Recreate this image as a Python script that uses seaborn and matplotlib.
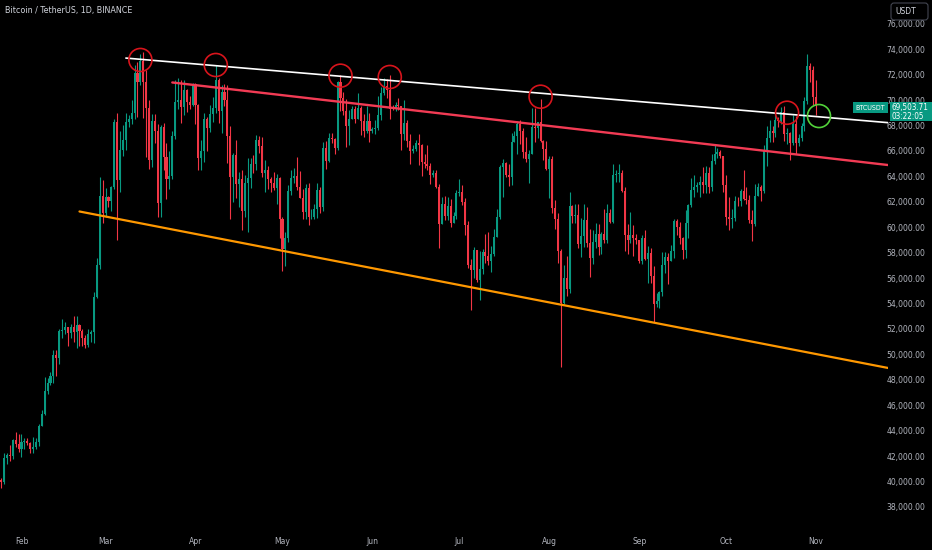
import numpy as np
import pandas as pd
import matplotlib
matplotlib.use("Agg")
import matplotlib.pyplot as plt
import matplotlib.dates as mdates
from matplotlib import font_manager as fm
from matplotlib.patches import Rectangle, FancyBboxPatch
from matplotlib.transforms import IdentityTransform
import seaborn as sns

# ---------------- data (BTCUSDT daily) ----------------
start_date = "2024-01-25"
first_open = 40080

close_jan = [39940, 41810, 42120, 42030, 43300, 42940, 42580]
high_jan = [40280, 42230, 42200, 42840, 43310, 43880, 43750]
low_jan = [39480, 39820, 41390, 41630, 41800, 42680, 42280]

close_feb = [43080, 43190, 42990, 42580, 42700, 43090, 44340, 45290, 47130, 47750,
             48290, 49960, 49700, 51800, 51940, 52130, 51660, 52120, 51780, 52280,
             51850, 51300, 50730, 51570, 51730, 54480, 57040, 62430, 61130]
high_feb = [43740, 43420, 43380, 43120, 43530, 43400, 44520, 45590, 48200, 48170,
            48590, 50330, 50370, 52000, 52820, 52580, 52190, 52370, 52990, 52990,
            52370, 52010, 51550, 51960, 51950, 54900, 57580, 63920, 63680]
low_feb = [41890, 42580, 42880, 42260, 42270, 42560, 42800, 44330, 45240, 46880,
           47550, 47720, 48300, 49260, 51280, 51620, 50620, 51280, 50960, 50530,
           50630, 50640, 50530, 50580, 51010, 50900, 54450, 56710, 60360]

close_mar = [62390, 62030, 63130, 68250, 63720, 66080, 66850, 68290, 68490, 69020,
             72100, 71450, 73070, 71390, 69400, 65300, 68390, 67550, 61910, 67910,
             65490, 63780, 64060, 67210, 69880, 69990, 69460, 70780, 69850, 69580,
             71280]
high_mar = [63110, 62430, 63230, 68530, 69000, 67600, 68020, 69000, 68800, 70000,
            72800, 73000, 73650, 73780, 72360, 70000, 68900, 68920, 68100, 68030,
            68240, 66650, 65970, 67600, 71560, 71730, 71550, 71550, 70900, 70320,
            71370]
low_mar = [60770, 61600, 61310, 62990, 59000, 62800, 65600, 66070, 67890, 68150,
           68550, 68690, 71170, 68600, 65500, 64600, 64750, 66620, 60780, 60780,
           64530, 62260, 63000, 63800, 66950, 69280, 68230, 68850, 69100, 69320,
           69500]

close_apr = [69650, 65460, 65960, 68490, 67820, 68900, 69360, 71620, 69150, 70630,
             70010, 67150, 63920, 65660, 63420, 63790, 61270, 63510, 63840, 64990,
             64940, 66840, 66410, 64280, 64500, 63770, 63460, 63120, 63840, 60670]
high_apr = [71350, 69680, 66900, 69000, 68710, 69630, 70280, 72800, 71760, 71170,
            71250, 71220, 67930, 65840, 66860, 64360, 64500, 64120, 65450, 65450,
            65700, 67230, 67210, 67090, 65300, 64800, 63930, 64370, 64220, 63960]
low_apr = [68130, 64490, 64500, 65100, 66000, 67500, 68300, 69000, 68190, 67450,
           69560, 65080, 60660, 62000, 62300, 61620, 59770, 60830, 59600, 63090,
           64260, 64480, 65840, 63960, 62800, 63000, 62800, 62960, 61800, 59190]

close_may = [58320, 59120, 62890, 63890, 64030, 63160, 62330, 61190, 63070, 60790,
             60830, 61460, 62910, 61560, 66250, 65230, 67040, 66940, 66270, 71450,
             70140, 69120, 67930, 68530, 69290, 68510, 69390, 68350, 67580, 68350,
             67540]
high_may = [60780, 59600, 63320, 64490, 64630, 65500, 64420, 63020, 63420, 63470,
            61440, 61830, 63450, 63130, 66700, 66800, 67400, 67450, 67000, 71500,
            71950, 70630, 70090, 69200, 69560, 69500, 70600, 69550, 68900, 69500,
            69000]
low_may = [56550, 56940, 58830, 62570, 63450, 62950, 62300, 60630, 60650, 60190,
           60630, 60620, 60750, 61150, 61310, 64600, 65100, 66600, 65800, 66100,
           69180, 68800, 66300, 66500, 68560, 68230, 68600, 67250, 67130, 67430,
           66670]

close_jun = [67750, 67770, 68800, 70570, 71080, 70760, 69340, 69300, 69650, 69510,
             67320, 68240, 66750, 66010, 66190, 66640, 66490, 65160, 64960, 64830,
             64100, 64260, 63160, 60280, 61800, 60860, 61670, 60320, 60890, 62680]
high_jun = [67860, 68450, 70290, 71060, 71760, 71640, 71980, 69580, 69850, 70150,
            69560, 69990, 68450, 67300, 66450, 66900, 67300, 66580, 65730, 66480,
            65070, 64520, 64540, 63370, 62400, 62480, 62370, 62200, 61220, 62900]
low_jun = [67400, 67330, 67620, 68450, 70370, 70130, 68500, 69200, 69150, 69220,
           66050, 66900, 66300, 65000, 65880, 66030, 64870, 64060, 64690, 64500,
           63380, 63950, 63080, 58400, 60270, 60560, 60570, 60000, 60390, 60650]

close_jul = [62770, 62020, 60200, 57050, 56640, 58230, 55850, 56700, 58040, 57720,
             57340, 57890, 59200, 60800, 64720, 65040, 64090, 63970, 66680, 67150,
             68160, 67550, 65930, 65370, 65780, 67910, 67810, 68250, 66780, 66190,
             64620]
high_jul = [63800, 63290, 62300, 60500, 57500, 58470, 58240, 58120, 58280, 59460,
            59650, 58500, 59850, 61420, 64880, 65390, 65100, 64950, 67390, 67600,
            68370, 68470, 67800, 67100, 66100, 69400, 69400, 68300, 70080, 66900,
            66800]
low_jul = [62490, 61780, 59400, 56770, 53480, 56000, 55720, 54260, 56300, 57180,
           57040, 56500, 57740, 59380, 60650, 62380, 63990, 63240, 63300, 66740,
           65800, 66580, 65440, 65120, 63460, 65750, 66700, 67050, 66740, 65300,
           64500]

close_aug = [65350, 61500, 60680, 58120, 54020, 56040, 55130, 61700, 60880, 60940,
             58710, 59350, 60600, 58740, 57560, 58870, 59490, 58430, 59490, 59010,
             61160, 60380, 64100, 64180, 64250, 62880, 59420, 59030, 59370, 59120,
             58970]
high_aug = [65600, 65600, 62180, 61100, 58290, 57000, 57700, 62740, 61760, 61800,
            61860, 60700, 61800, 61580, 59850, 59820, 60300, 60260, 59620, 61400,
            61820, 61400, 64950, 64520, 65000, 64480, 63180, 60230, 61190, 60200,
            59460]
low_aug = [62300, 61120, 59850, 57200, 49000, 53950, 54600, 54800, 60350, 60300,
           58400, 57650, 58460, 58460, 56090, 57100, 58400, 57820, 57860, 58790,
           58780, 60300, 60350, 63580, 63580, 62800, 58120, 57870, 58760, 57700,
           58700]

close_sep = [57320, 59130, 57490, 57970, 56160, 53960, 54160, 54870, 57050, 57640,
             57340, 58130, 60500, 59990, 59130, 58210, 60310, 61760, 62950, 63200,
             63350, 63580, 63340, 64260, 63150, 65180, 65790, 65890, 65600, 63330]
high_sep = [59000, 59400, 59810, 58520, 58330, 56980, 54850, 55000, 58050, 58040,
            57990, 58590, 60670, 60640, 60380, 59200, 61350, 61790, 63850, 64130,
            63560, 64000, 64750, 64800, 64740, 65800, 66500, 66260, 66080, 65590]
low_sep = [57200, 57130, 57400, 55600, 55640, 52550, 53750, 53650, 54600, 56400,
           55550, 57320, 57600, 59420, 58700, 57500, 57610, 59170, 61580, 62350,
           62750, 62360, 62730, 62700, 62670, 62870, 65000, 65420, 65420, 62800]

close_oct = [60800, 60650, 60750, 62080, 62050, 62820, 62220, 62130, 60580, 60270,
             62450, 63190, 62850, 66050, 67040, 67610, 67400, 68420, 68360, 69030,
             67370, 67380, 66650, 68160, 66640, 67010, 67930, 69900, 72720, 72340,
             70220]
high_oct = [64130, 62370, 61470, 62480, 62370, 62980, 64480, 63180, 62520, 61320,
            63420, 63480, 63300, 66480, 67950, 68420, 68000, 68970, 68670, 69490,
            69500, 67830, 67470, 68800, 68770, 67310, 68200, 70270, 73620, 72950,
            72700]
low_oct = [60160, 59820, 59920, 60460, 61710, 61670, 62120, 61800, 60300, 58900,
           60070, 62420, 62040, 62700, 64800, 66700, 66720, 67100, 67910, 68100,
           66820, 66570, 65260, 66460, 65730, 66400, 66800, 67600, 69700, 71430,
           69650]

close_nov = [69503.71]
high_nov = [71590]
low_nov = [68800]

current_price = 69503.71
countdown = "03:22:05"

# trend lines: (date, price) anchors
white_line_dates = ["2024-03-08", "2024-11-26"]
white_line_prices = [73310, 68225]
red_line_dates = ["2024-03-24", "2024-11-26"]
red_line_prices = [71390, 64890]
orange_line_dates = ["2024-02-21", "2024-11-26"]
orange_line_prices = [61240, 48920]

# highlighted touches
red_circle_dates = ["2024-03-13", "2024-04-08", "2024-05-21", "2024-06-07",
                    "2024-07-29", "2024-10-22"]
red_circle_prices = [73160, 72765, 71925, 71820, 70270, 69010]
green_circle_dates = ["2024-11-02"]
green_circle_prices = [68750]

month_labels = ["Feb", "Mar", "Apr", "May", "Jun", "Jul", "Aug", "Sep", "Oct", "Nov"]
month_starts = ["2024-02-01", "2024-03-01", "2024-04-01", "2024-05-01", "2024-06-01",
                "2024-07-01", "2024-08-01", "2024-09-01", "2024-10-01", "2024-11-01"]
price_ticks = list(range(38000, 76001, 2000))
title_text = "Bitcoin / TetherUS, 1D, BINANCE"

# ---------------- assemble ----------------
closes = np.array(close_jan + close_feb + close_mar + close_apr + close_may + close_jun +
                  close_jul + close_aug + close_sep + close_oct + close_nov, dtype=float)
highs = np.array(high_jan + high_feb + high_mar + high_apr + high_may + high_jun +
                 high_jul + high_aug + high_sep + high_oct + high_nov, dtype=float)
lows = np.array(low_jan + low_feb + low_mar + low_apr + low_may + low_jun +
                low_jul + low_aug + low_sep + low_oct + low_nov, dtype=float)
opens = np.concatenate([[first_open], closes[:-1]])
n = min(len(closes), len(highs), len(lows))
closes, highs, lows, opens = closes[:n], highs[:n], lows[:n], opens[:n]
highs = np.maximum(highs, np.maximum(opens, closes))
lows = np.minimum(lows, np.minimum(opens, closes))
dates = pd.date_range(start_date, periods=n, freq="D")
xd = mdates.date2num(dates.to_pydatetime())
df = pd.DataFrame({"x": xd, "open": opens, "high": highs, "low": lows, "close": closes})


def dn(s):
    return mdates.date2num(pd.Timestamp(s).to_pydatetime())


# ---------------- style ----------------
BG = "#000000"
TXT = "#b2b5be"
UP = "#089981"
DN = "#f23645"
sns.set_theme(style="dark", rc={
    "axes.facecolor": BG, "figure.facecolor": BG, "savefig.facecolor": BG,
    "axes.grid": False, "text.color": TXT, "xtick.color": TXT, "ytick.color": TXT,
    "axes.edgecolor": BG,
})

# choose a narrow face if one is installed
_fonts = [(f.name, str(f.stretch)) for f in fm.fontManager.ttflist]
FAM, STR = "DejaVu Sans", "normal"
if any(nm == "Liberation Sans Narrow" for nm, _ in _fonts):
    FAM, STR = "Liberation Sans Narrow", "normal"
elif any(nm == "DejaVu Sans" and "condensed" in st for nm, st in _fonts):
    FAM, STR = "DejaVu Sans", "condensed"
elif any(nm == "Roboto Condensed" for nm, _ in _fonts):
    FAM, STR = "Roboto Condensed", "normal"
elif any(nm == "Open Sans" and "condensed" in st for nm, st in _fonts):
    FAM, STR = "Open Sans", "condensed"
plt.rcParams["font.family"] = [FAM, "DejaVu Sans"]
plt.rcParams["font.stretch"] = STR

W, H = 932, 550
fig = plt.figure(figsize=(W / 100, H / 100), dpi=100)
renderer = fig.canvas.get_renderer()


def fit_size(s, target_px, cap):
    t = fig.text(0, 0, s, fontsize=10, family=[FAM, "DejaVu Sans"], stretch=STR)
    w = t.get_window_extent(renderer).width
    t.remove()
    return min(cap, 10 * target_px / max(w, 1))


FS_AX = fit_size("74,000.00", 39, 6.8)
FS_TITLE = fit_size(title_text, 128, 7.5)
FS_TAG = fit_size("BTCUSDT", 30, 6.5)
FS_PRICE = fit_size("69,503.71", 37, 6.8)
FS_USDT = fit_size("USDT", 21, 6.8)

ax = fig.add_axes([0, 26 / H, 888 / W, 524 / H])
ax.set_facecolor(BG)
for s in ax.spines.values():
    s.set_visible(False)

x_left = dn("2024-02-01") - 7.41
x_right = dn("2024-02-01") + 298.8
ax.set_xlim(x_left, x_right)
ax.set_ylim(36652, 77879)

# candles
colors = np.where(df["close"] >= df["open"], UP, DN)
ax.vlines(df["x"], df["low"], df["high"], colors=colors, lw=0.8, zorder=2)
body = (df["close"] - df["open"]).to_numpy()
body = np.where(np.abs(body) < 40, 40 * np.sign(body + 1e-9), body)
ax.bar(df["x"], body, bottom=df["open"], width=0.7, color=colors, linewidth=0, zorder=3)

# trend lines
sns.lineplot(x=[dn(d) for d in white_line_dates], y=white_line_prices, ax=ax,
             color="#ffffff", lw=1.2, zorder=4)
sns.lineplot(x=[dn(d) for d in red_line_dates], y=red_line_prices, ax=ax,
             color="#f23b54", lw=1.7, zorder=4)
sns.lineplot(x=[dn(d) for d in orange_line_dates], y=orange_line_prices, ax=ax,
             color="#ff9800", lw=1.6, zorder=4)

# circles
ax.scatter([dn(d) for d in red_circle_dates], red_circle_prices, s=275,
           facecolors="none", edgecolors="#d8141c", linewidths=1.2, zorder=5)
ax.scatter([dn(d) for d in green_circle_dates], green_circle_prices, s=275,
           facecolors="none", edgecolors="#52d23a", linewidths=1.2, zorder=5)

# axes ticks
ax.set_xticks([dn(d) for d in month_starts])
ax.set_xticklabels(month_labels, fontsize=FS_AX)
ax.tick_params(axis="x", length=0, pad=9)
ax.yaxis.tick_right()
ax.set_yticks(price_ticks)
ax.set_yticklabels([f"{v:,.2f}" for v in price_ticks], fontsize=FS_AX)
ax.tick_params(axis="y", length=0, pad=27)
for lab in ax.get_yticklabels():
    lab.set_horizontalalignment("right")
ax.set_xlabel("")
ax.set_ylabel("")

# header
fig.text(5 / W, 1 - 11 / H, title_text, fontsize=FS_TITLE,
         color="#d1d4dc", ha="left", va="center")

# USDT box
fig.add_artist(FancyBboxPatch((891, H - 20), 37, 17, boxstyle="round,pad=0,rounding_size=3",
                              transform=IdentityTransform(), facecolor="#000000",
                              edgecolor="#434651", lw=0.8, zorder=10))
fig.text(895 / W, 1 - 11.5 / H, "USDT", fontsize=FS_USDT, color="#d1d4dc",
         ha="left", va="center", zorder=11)

# current price label
py = ax.transData.transform((x_left, current_price))[1]
fig.add_artist(Rectangle((853, py - 6.5), 35, 10.5, transform=IdentityTransform(),
                         facecolor=UP, edgecolor="none", zorder=10))
fig.text(870.5 / W, (py - 1.3) / H, "BTCUSDT", fontsize=FS_TAG, color="#ffffff",
         ha="center", va="center", zorder=11)
fig.add_artist(Rectangle((890, py - 14.5), 42, 19, transform=IdentityTransform(),
                         facecolor=UP, edgecolor="none", zorder=10))
fig.text(892 / W, (py - 0.8) / H, f"{current_price:,.2f}", fontsize=FS_PRICE, color="#ffffff",
         ha="left", va="center", zorder=11)
fig.text(892 / W, (py - 10.2) / H, countdown, fontsize=FS_PRICE, color="#ffffff",
         ha="left", va="center", zorder=11)

fig.savefig("out.png", dpi=100, facecolor=BG)
